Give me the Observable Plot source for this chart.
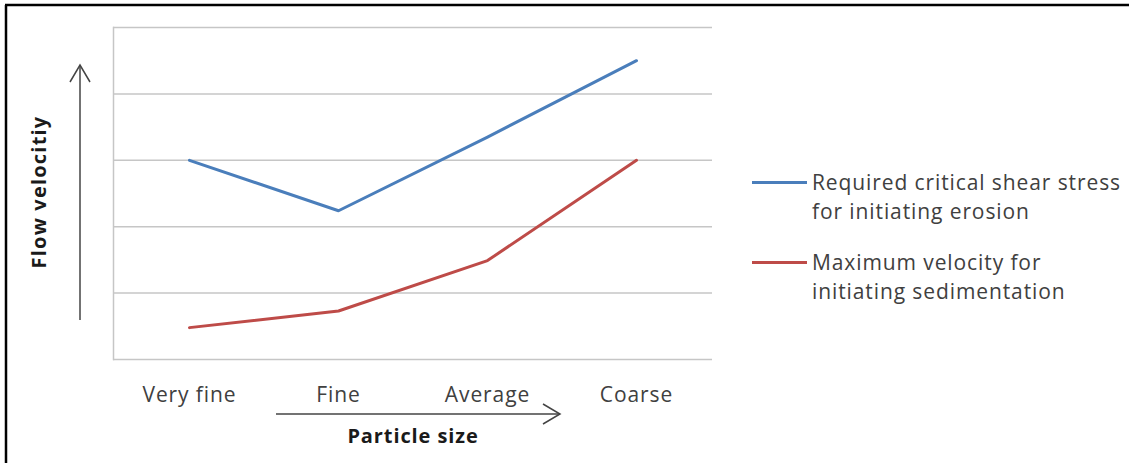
<!DOCTYPE html>
<html>
<head>
<meta charset="utf-8">
<script src="https://cdn.jsdelivr.net/npm/d3@7"></script>
<script src="https://cdn.jsdelivr.net/npm/@observablehq/plot@0.6"></script>
<style>
  html, body { margin: 0; padding: 0; background: #fff; }
  #wrap { position: relative; width: 1129px; height: 463px; overflow: hidden; font-family: "Open Sans", sans-serif; }
  #wrap svg { position: absolute; left: 0; top: 0; }
  #wrap svg text { letter-spacing: 0.9px; }
  .leg { position: absolute; left: 752px; display: flex; align-items: flex-start; color: #404040; font-size: 21px; line-height: 29px; letter-spacing: 0.9px; white-space: nowrap; }
  .leg .sw { width: 55px; height: 3px; margin-top: 13px; margin-right: 5px; flex: none; }
</style>
</head>
<body>
<div id="wrap"></div>
<script>
const categories = ["Very fine", "Fine", "Average", "Coarse"];
const erosion = [3.0, 2.24, 3.35, 4.5];
const sedimentation = [0.48, 0.73, 1.49, 3.0];
const seriesNames = ["Required critical shear stress for initiating erosion", "Maximum velocity for initiating sedimentation"];
const legendLines = [["Required critical shear stress", "for initiating erosion"], ["Maximum velocity for", "initiating sedimentation"]];
const seriesColors = ["#4a7ebb", "#be4b48"];
const yTicks = [0, 1, 2, 3, 4, 5];

const data = [];
categories.forEach((c, i) => {
  data.push({cat: c, v: erosion[i], s: seriesNames[0]});
  data.push({cat: c, v: sedimentation[i], s: seriesNames[1]});
});

const W = 1129, H = 463;
const chart = Plot.plot({
  width: W, height: H,
  marginLeft: 113, marginRight: 417, marginTop: 27, marginBottom: 104,
  style: {fontFamily: "Open Sans, sans-serif", fontSize: "21px", color: "#404040", background: "transparent"},
  x: {type: "point", domain: categories, padding: 0.5, label: null},
  y: {domain: [0, 5], label: null},
  color: {domain: seriesNames, range: seriesColors},
  marks: [
    Plot.ruleY(yTicks, {stroke: "#c6c6c6", strokeWidth: 1.5}),
    Plot.frame({anchor: "left", stroke: "#c6c6c6", strokeWidth: 1.5}),
    Plot.line(data, {x: "cat", y: "v", z: "s", stroke: "s", strokeWidth: 3}),
    Plot.axisX({tickSize: 0, tickPadding: 28, fontSize: 21, fill: "#404040"}),
    Plot.axisY({ticks: [], tickSize: 0, label: null})
  ]
});
const wrap = document.getElementById("wrap");
wrap.appendChild(chart);

// Decorations: border, axis arrows, axis titles
const ns = "http://www.w3.org/2000/svg";
const ov = document.createElementNS(ns, "svg");
ov.setAttribute("width", W); ov.setAttribute("height", H);
ov.innerHTML = `
  <line x1="5" y1="5" x2="1129" y2="5" stroke="#000" stroke-width="2.5"/>
  <line x1="6" y1="5" x2="6" y2="463" stroke="#000" stroke-width="2.5"/>
  <g stroke="#444" stroke-width="1.5" fill="none">
    <line x1="80" y1="320" x2="80" y2="65"/>
    <polyline points="70,82 80,65 90,82"/>
    <line x1="276" y1="414" x2="560" y2="414"/>
    <polyline points="543,404 560,414 543,424"/>
  </g>
  <text x="413" y="443" text-anchor="middle" font-family="Open Sans, sans-serif" font-weight="bold" font-size="20" fill="#1a1a1a">Particle size</text>
  <text transform="translate(46,192) rotate(-90)" text-anchor="middle" font-family="Open Sans, sans-serif" font-weight="bold" font-size="20" fill="#1a1a1a" style="letter-spacing:1.2px">Flow velocitiy</text>
`;
wrap.appendChild(ov);

// Legend
const legTops = [168, 248];
seriesNames.forEach((n, i) => {
  const d = document.createElement("div");
  d.className = "leg";
  d.style.top = legTops[i] + "px";
  d.innerHTML = `<div class="sw" style="background:${seriesColors[i]}"></div><div>${legendLines[i].join("<br>")}</div>`;
  wrap.appendChild(d);
});
</script>
</body>
</html>
